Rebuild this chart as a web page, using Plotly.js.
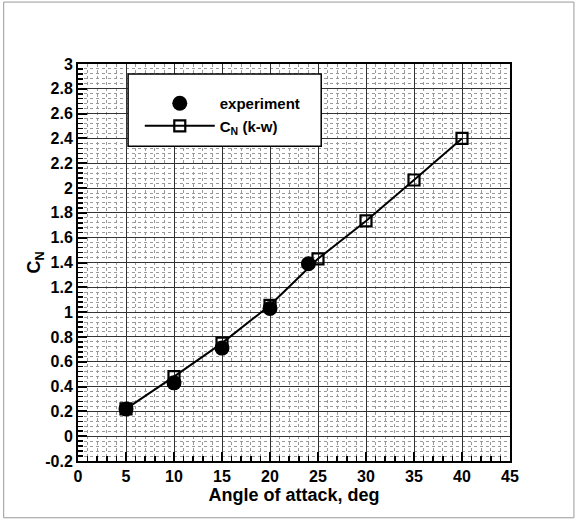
<!DOCTYPE html>
<html>
<head>
<meta charset="utf-8">
<script src="https://cdn.plot.ly/plotly-3.0.1.min.js"></script>
<style>html,body{margin:0;padding:0;background:#fff;}#chart{width:577px;height:520px;}</style>
</head>
<body>
<div id="chart"></div>
<script>
// Data
const expAlpha = [5, 10, 15, 20, 24];
const expCN = [0.22, 0.43, 0.71, 1.03, 1.39];
const kwAlpha = [5, 10, 15, 20, 25, 30, 35, 40];
const kwCN = [0.22, 0.48, 0.75, 1.055, 1.43, 1.735, 2.065, 2.40];
const seriesNames = ["experiment", "C<sub>N</sub> (k-w)"];
const xTitle = "Angle of attack, deg";
const yTitle = "C<sub>N</sub>";
const yTickVals = [-0.2, 0, 0.2, 0.4, 0.6, 0.8, 1, 1.2, 1.4, 1.6, 1.8, 2, 2.2, 2.4, 2.6, 2.8, 3];
const yTickText = ["-0.2", "0", "0.2", "0.4", "0.6", "0.8", "1", "1.2", "1.4", "1.6", "1.8", "2", "2.2", "2.4", "2.6", "2.8", "3"];

const FONT = "Liberation Sans, Arial, Helvetica, sans-serif";

const traces = [
  {
    x: expAlpha, y: expCN, name: seriesNames[0], type: "scatter", mode: "markers",
    marker: {symbol: "circle", size: 15, color: "#000"}
  },
  {
    x: kwAlpha, y: kwCN, name: seriesNames[1], type: "scatter", mode: "lines+markers",
    line: {color: "#000", width: 2},
    marker: {symbol: "square-open", size: 11, color: "#000", line: {width: 2.2, color: "#000"}}
  }
];

const axisCommon = {
  showline: true, linecolor: "#000", linewidth: 2, mirror: true,
  ticks: "inside", tickcolor: "#000", tickwidth: 2, ticklen: 9,
  showgrid: true, gridcolor: "#333", gridwidth: 1,
  zeroline: false,
  tickfont: {family: FONT, size: 16, color: "#000", weight: "bold"}
};

const layout = {
  width: 577, height: 520,
  margin: {l: 78, r: 67, t: 64, b: 59},
  paper_bgcolor: "#fff", plot_bgcolor: "#fff",
  showlegend: true,
  legend: {
    x: 0.143, y: 0.942, xanchor: "left", yanchor: "top",
    bgcolor: "rgba(0,0,0,0)", borderwidth: 0,
    itemwidth: 70, tracegroupgap: 0,
    font: {family: FONT, size: 15, color: "#000", weight: "bold"}
  },
  xaxis: Object.assign({}, axisCommon, {
    range: [0, 45], dtick: 5, tick0: 0,
    title: {text: xTitle, standoff: 0, font: {family: FONT, size: 18, color: "#000", weight: "bold"}},
    minor: {dtick: 1, ticks: "inside", ticklen: 5, tickwidth: 1.5, tickcolor: "#000",
            showgrid: true, gridcolor: "#999", griddash: "dot", gridwidth: 1}
  }),
  yaxis: Object.assign({}, axisCommon, {
    range: [-0.2, 3], tickmode: "array", tickvals: yTickVals, ticktext: yTickText,
    title: {text: yTitle, standoff: 0, font: {family: FONT, size: 18, color: "#000", weight: "bold"}},
    minor: {dtick: 0.04, tick0: 0, ticks: "inside", ticklen: 5, tickwidth: 1.5, tickcolor: "#000",
            showgrid: true, gridcolor: "#999", griddash: "dot", gridwidth: 1}
  }),
  shapes: [
    {type: "rect", xref: "paper", yref: "paper", x0: 0.116, x1: 0.563, y0: 0.793, y1: 0.975,
     fillcolor: "#fff", line: {color: "#000", width: 1.5}, layer: "above"},
    {type: "rect", xref: "paper", yref: "paper", x0: -0.172, x1: 1.148, y0: -0.143, y1: 1.156,
     line: {color: "#999", width: 1}, layer: "below"}
  ]
};

Plotly.newPlot("chart", traces, layout, {staticPlot: true, displayModeBar: false});
</script>
</body>
</html>
